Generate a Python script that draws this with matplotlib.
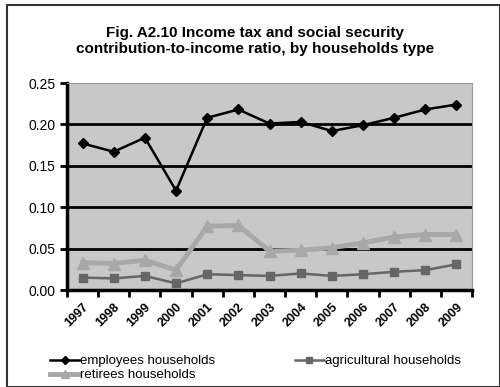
import matplotlib
matplotlib.use("Agg")
import matplotlib.pyplot as plt
from matplotlib.patches import Rectangle

years = ["1997", "1998", "1999", "2000", "2001", "2002", "2003", "2004", "2005", "2006", "2007", "2008", "2009"]
employees = [0.177, 0.167, 0.184, 0.120, 0.208, 0.218, 0.201, 0.203, 0.192, 0.199, 0.208, 0.218, 0.224]
agricultural = [0.015, 0.014, 0.017, 0.008, 0.019, 0.018, 0.017, 0.020, 0.017, 0.019, 0.022, 0.024, 0.031]
retirees = [0.033, 0.032, 0.036, 0.024, 0.077, 0.078, 0.047, 0.048, 0.051, 0.057, 0.064, 0.067, 0.067]
yticks = [0.00, 0.05, 0.10, 0.15, 0.20, 0.25]

plt.rcParams['font.family'] = ['Liberation Sans', 'DejaVu Sans']

W, H = 500, 387
fig = plt.figure(figsize=(5, 3.87), dpi=100)
fig.add_artist(Rectangle((7 / W, 0), 1 - 7 / W, 1 - 5 / H, transform=fig.transFigure,
                         fill=False, edgecolor='#333333', linewidth=1.5))

ax = fig.add_axes([67 / W, 1 - 290 / H, (472 - 67) / W, (290 - 83) / H])
ax.set_facecolor('#c8c8c8')
x = list(range(len(years)))
l1, = ax.plot(x, employees, color='black', marker='D', markersize=5, linewidth=1.8, label='employees households', zorder=5)
l2, = ax.plot(x, agricultural, color='#666666', marker='s', markersize=6, linewidth=1.8, label='agricultural households', zorder=4)
l3, = ax.plot(x, retirees, color='#a8a8a8', marker='^', markersize=8, linewidth=3.5, label='retirees households', zorder=3)

ax.set_xlim(-0.5, len(years) - 0.5)
ax.set_ylim(0, 0.25)
ax.set_yticks(yticks)
ax.set_yticklabels([f"{v:.2f}" for v in yticks], fontsize=10)
for v in yticks[1:-1]:
    ax.axhline(v, color='black', linewidth=2, zorder=1)
ax.set_xticks([i - 0.5 for i in range(len(years) + 1)], minor=False)
ax.set_xticklabels([])
ax.set_xticks(x, minor=True)
ax.set_xticklabels(years, minor=True, rotation=45, ha='right', rotation_mode='anchor', fontsize=9, fontweight='bold')
ax.tick_params(axis='x', which='minor', length=0, pad=8)
ax.tick_params(axis='x', which='major', length=5, width=2, direction='out')
ax.tick_params(axis='y', length=5, width=2, direction='out')
ax.spines['left'].set_linewidth(2.5)
ax.spines['bottom'].set_linewidth(2.5)
ax.spines['top'].set_color('#999999')
ax.spines['right'].set_color('#999999')

fig.text(0.51, 1 - 41 / H, "Fig. A2.10 Income tax and social security\ncontribution-to-income ratio, by households type",
         ha='center', va='center', fontsize=11, fontweight='bold', linespacing=1.25)

fig.legend([l1, l3, l2], [l1.get_label(), l3.get_label(), l2.get_label()],
           loc='upper left', bbox_to_anchor=(50 / W, 1 - 355 / H), ncol=2,
           frameon=False, fontsize=9.5, handlelength=2.2, handletextpad=0.1, columnspacing=6,
           labelspacing=0.15, borderaxespad=0, borderpad=0, markerscale=0.8)

fig.savefig('out.png', dpi=100)
